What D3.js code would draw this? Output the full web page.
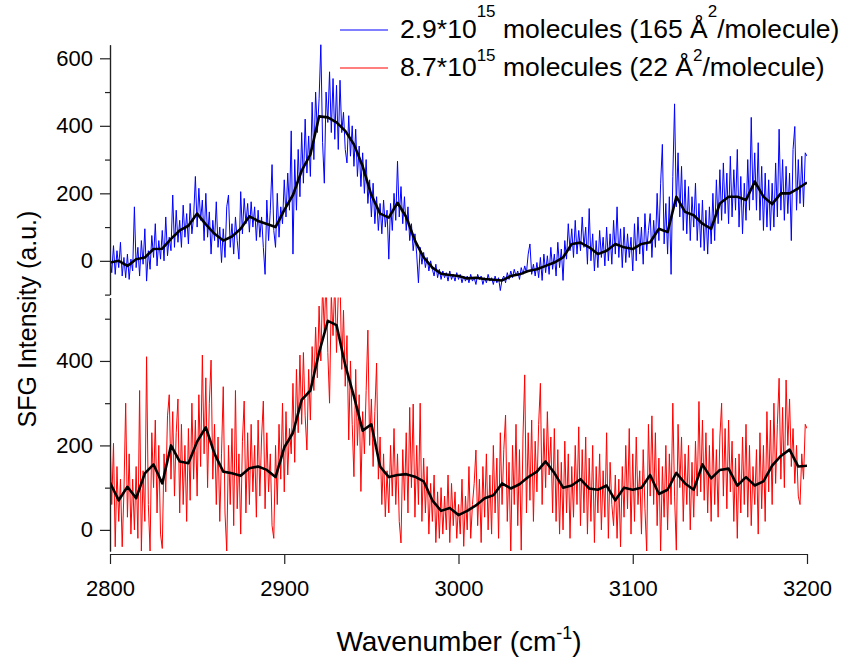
<!DOCTYPE html>
<html>
<head>
<meta charset="utf-8">
<script src="https://cdn.jsdelivr.net/npm/d3@7"></script>
<style>
  body { margin: 0; background: #fff; }
  text { font-family: "Liberation Sans", Arial, sans-serif; fill: #000; }
</style>
</head>
<body>
<svg id="chart" width="843" height="657"></svg>
<script>
// raw spectra, 1 cm-1 steps from 2800 to 3200
var rawWavenumbers = d3.range(2800, 3201, 1);

var blueRaw = [
  15,-35,45,-40,30,-20,55,-45,10,-50,
  20,-55,5,-30,160,-20,40,-45,60,-10,
  95,-60,30,-25,75,10,110,-15,60,5,
  90,0,130,15,70,30,195,40,150,55,
  120,40,165,70,140,50,170,80,130,250,
  100,215,120,180,60,200,70,145,20,120,
  60,175,40,100,-5,95,10,160,195,40,
  110,20,130,60,5,205,80,185,110,170,
  85,175,100,160,60,150,70,130,40,-40,
  180,60,150,285,90,40,200,70,160,110,
  240,130,260,150,385,20,300,150,330,190,
  380,230,420,260,370,250,470,300,500,380,
  480,643,350,230,500,410,560,380,540,360,
  520,330,535,380,440,330,290,430,310,400,
  280,390,250,340,220,320,200,300,170,240,
  130,230,110,190,90,170,80,180,100,150,
  5,170,90,200,120,295,130,220,110,190,
  90,160,60,110,30,80,20,-65,40,-10,
  25,-20,10,-30,0,-25,-45,-10,-50,-25,
  -55,-30,-50,-35,-60,-30,-55,-40,-60,-35,
  -55,-40,-65,-45,-60,-45,-65,-40,-60,-50,
  -70,-40,-55,-45,-70,-50,-65,-40,-60,-50,
  -70,-45,-65,-50,-88,-55,-45,-65,-35,-55,
  -30,-50,-25,-45,-30,-55,-20,-40,-15,-35,
  20,50,-40,-10,-45,-5,-50,10,-58,20,
  -35,15,-40,40,-25,20,-45,55,-20,35,
  -58,60,5,110,30,95,10,120,20,90,
  30,130,40,100,-10,155,0,80,-30,60,
  -20,90,10,70,-15,100,0,80,-10,120,
  20,160,10,95,-20,100,-5,80,10,70,
  -30,110,0,130,20,100,-10,140,30,90,
  140,10,120,40,200,60,230,345,50,170,
  20,190,-40,250,465,160,320,130,280,90,
  240,80,220,60,190,100,230,60,170,40,
  180,30,150,20,160,50,200,60,240,110,
  270,120,290,140,260,110,310,130,270,150,
  330,100,250,80,230,120,300,150,425,180,
  320,150,350,120,280,90,260,100,240,90,
  230,100,290,130,390,150,300,120,280,140,
  260,60,330,398,150,300,170,310,160,320,
  310
];

var redRaw = [
  225,60,205,-40,150,20,120,-40,90,300,
  30,180,-10,120,0,150,-20,330,-50,140,
  20,410,60,-50,230,100,260,40,200,-10,
  -44,180,90,270,320,120,280,80,230,310,
  40,250,60,200,20,240,70,300,120,260,
  80,320,150,414,180,360,100,300,402,120,
  250,60,220,20,180,339,40,-50,200,60,
  240,10,330,50,180,-10,210,305,40,230,
  60,250,90,200,30,260,80,220,305,50,
  230,90,180,10,-20,200,60,250,120,300,
  90,280,130,240,180,347,160,380,230,414,
  250,420,270,189,380,260,434,330,480,360,
  530,400,580,470,600,420,300,560,460,590,
  420,560,600,380,520,340,460,213,400,250,
  126,380,200,320,91,280,180,330,473,200,
  310,150,280,395,120,220,60,180,31,140,
  40,200,80,240,60,180,20,-31,190,70,
  230,40,290,100,298,30,200,60,300,20,
  170,40,150,-10,110,20,130,-30,90,-20,
  100,-10,80,0,130,-30,110,10,90,-20,
  60,-10,120,-39,80,0,150,-20,60,110,
  189,10,120,-30,150,30,180,0,130,-10,
  200,40,170,-20,230,60,190,272,20,160,
  -55,200,60,250,10,190,-48,220,367,40,
  230,70,260,20,210,90,250,347,60,240,
  100,280,130,220,40,240,20,190,-10,160,
  0,210,40,180,-20,150,30,200,60,244,
  10,190,40,220,-10,170,20,200,-30,150,
  40,180,0,140,30,230,-20,160,60,10,
  130,-20,120,-40,150,30,200,50,240,-10,
  180,20,220,60,140,-10,190,50,-51,250,
  80,270,60,230,10,170,-51,150,30,200,
  0,180,60,300,80,-48,250,100,220,20,
  180,60,200,0,160,30,210,80,304,90,
  260,70,230,40,200,20,240,60,190,30,
  220,300,80,240,50,260,90,210,20,170,
  -20,180,40,220,60,250,30,200,10,150,
  60,190,-10,230,50,200,20,280,90,260,
  60,300,110,250,359,120,290,100,355,200,
  310,150,240,110,200,80,60,180,120,250,
  240
];

// smoothed spectra, 5 cm-1 steps
var smoothWavenumbers = d3.range(2800, 3201, 5);

var blueSmooth = [
  -5,0,-15,5,10,35,36,65,90,104,
  140,108,80,60,72,95,132,118,109,100,
  150,195,267,315,428,425,410,385,345,280,
  195,140,128,172,130,60,10,-20,-38,-42,
  -45,-52,-50,-54,-56,-58,-45,-40,-30,-25,
  -15,-5,10,50,54,40,20,30,50,40,
  35,50,55,95,85,190,145,135,110,95,
  170,190,190,180,235,190,168,200,200,215,
  232
];

var redSmooth = [
  112,70,102,75,134,155,110,200,162,158,
  209,243,180,138,134,128,146,150,142,125,
  195,230,308,330,420,495,485,390,316,235,
  250,150,125,130,132,126,115,70,45,52,
  35,45,58,75,82,110,98,108,125,138,
  162,135,100,105,120,98,95,105,70,100,
  95,100,130,85,95,135,110,95,155,122,
  142,145,105,125,105,115,152,175,190,150,
  152
];

var xTicks = [2800, 2900, 3000, 3100, 3200];
var topTicks = [0, 200, 400, 600];
var topMinor = [-100, 100, 300, 500];
var botTicks = [0, 200, 400];
var botMinor = [100, 300, 500];

var svg = d3.select("#chart");

var x = d3.scaleLinear().domain([2800, 3200]).range([110, 807]);
var yTop = d3.scaleLinear().domain([-100, 640]).range([294.6, 44.8]);
var yBot = d3.scaleLinear().domain([-50, 550]).range([551, 297.6]);

var defs = svg.append("defs");
defs.append("clipPath").attr("id", "clipTop")
    .append("rect").attr("x", 110).attr("y", 44.8).attr("width", 697).attr("height", 249.8);
defs.append("clipPath").attr("id", "clipBot")
    .append("rect").attr("x", 110).attr("y", 297.6).attr("width", 697).attr("height", 253.4);

function drawPanel(y, clipId, raw, smooth, color) {
    var g = svg.append("g").attr("clip-path", "url(#" + clipId + ")");

    var rawLine = d3.line()
        .x(function (d, i) { return x(rawWavenumbers[i]); })
        .y(function (d) { return y(d); });

    var smoothLine = d3.line()
        .x(function (d, i) { return x(smoothWavenumbers[i]); })
        .y(function (d) { return y(d); });

    g.append("path")
        .attr("d", rawLine(raw))
        .attr("fill", "none")
        .attr("stroke", color)
        .attr("stroke-width", 1);

    g.append("path")
        .attr("d", smoothLine(smooth))
        .attr("fill", "none")
        .attr("stroke", "#000")
        .attr("stroke-width", 2.6)
        .attr("stroke-linejoin", "round");
}

drawPanel(yTop, "clipTop", blueRaw, blueSmooth, "#0000ff");
drawPanel(yBot, "clipBot", redRaw, redSmooth, "#ff0000");

function styleAxis(g) {
    g.attr("font-size", 22).attr("font-family", null);
    g.selectAll("path, line").attr("stroke", "#222").attr("stroke-width", 1.2);
}

function yAxis(y, major, minor) {
    svg.append("g")
        .attr("transform", "translate(110,0)")
        .call(d3.axisLeft(y).tickValues(major).tickSize(10).tickSizeOuter(0).tickPadding(7))
        .call(styleAxis);
    svg.append("g")
        .attr("transform", "translate(110,0)")
        .call(d3.axisLeft(y).tickValues(minor).tickSize(5).tickSizeOuter(0).tickFormat(""))
        .call(styleAxis);
}

yAxis(yTop, topTicks, topMinor);
yAxis(yBot, botTicks, botMinor);

svg.append("g")
    .attr("transform", "translate(0,554)")
    .call(d3.axisBottom(x).tickValues(xTicks).tickSize(10).tickSizeOuter(0).tickPadding(16)
        .tickFormat(d3.format("d")))
    .call(styleAxis);

// axis titles
var xt = svg.append("text")
    .attr("x", 459).attr("y", 651)
    .attr("text-anchor", "middle")
    .attr("font-size", 28);
xt.append("tspan").text("Wavenumber (cm");
xt.append("tspan").attr("font-size", 18).attr("dy", -12).text("-1");
xt.append("tspan").attr("dy", 12).text(")");

svg.append("text")
    .attr("transform", "translate(36,319) rotate(-90)")
    .attr("text-anchor", "middle")
    .attr("font-size", 25)
    .text("SFG Intensity (a.u.)");

// legend
var legend = [
    { color: "#0000ff", y: 30, base: 37.5, supY: 17, num: "2.9*10", area: "165" },
    { color: "#ff0000", y: 68, base: 76, supY: 61, num: "8.7*10", area: "22" }
];

legend.forEach(function (d) {
    svg.append("line")
        .attr("x1", 340).attr("x2", 388)
        .attr("y1", d.y).attr("y2", d.y)
        .attr("stroke", d.color).attr("stroke-width", 1.2);
    var t = svg.append("text").attr("x", 400).attr("y", d.base).attr("font-size", 26.5);
    t.append("tspan").text(d.num);
    t.append("tspan").attr("y", d.supY).attr("font-size", 17).text("15");
    t.append("tspan").attr("y", d.base).text(" molecules (" + d.area + " \u00c5");
    t.append("tspan").attr("y", d.supY).attr("font-size", 17).text("2");
    t.append("tspan").attr("y", d.base).text("/molecule)");
});
</script>
</body>
</html>
